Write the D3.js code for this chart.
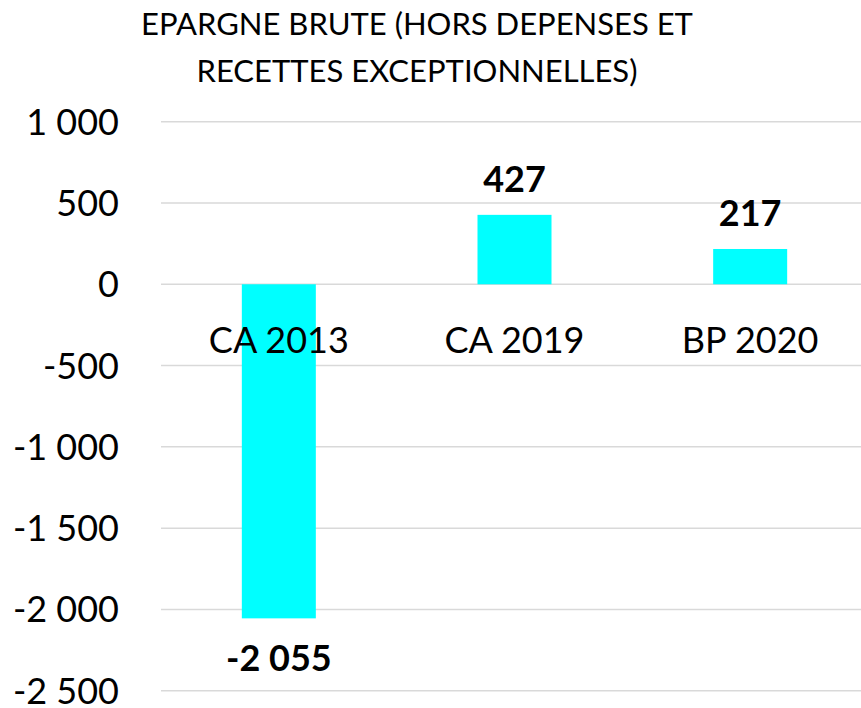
<!DOCTYPE html>
<html>
<head>
<meta charset="utf-8">
<script src="https://cdn.jsdelivr.net/npm/d3@7"></script>
<style>
  body { margin: 0; background: #fff; }
  text { font-family: Lato, "Open Sans", sans-serif; }
</style>
</head>
<body>
<svg id="chart" width="861" height="708"></svg>
<script>
// Data
const categories = ["CA 2013", "CA 2019", "BP 2020"];
const values = [-2055, 427, 217];
const valueLabels = ["-2 055", "427", "217"];
const yTicks = [1000, 500, 0, -500, -1000, -1500, -2000, -2500];
const titleLines = ["EPARGNE BRUTE (HORS DEPENSES ET", "RECETTES EXCEPTIONNELLES)"];

const svg = d3.select("#chart"),
    width = +svg.attr("width"),
    height = +svg.attr("height");

const x = d3.scaleBand()
    .domain(categories)
    .range([161, 868])
    .paddingInner(0.686)
    .paddingOuter(0.343);

const y = d3.scaleLinear()
    .domain([-2500, 1000])
    .range([690.7, 121.7]);

// format with space thousands separator
const fmt = d3.formatLocale({ decimal: ",", thousands: " ", grouping: [3], currency: ["", "€"], minus: "-" }).format(",d");

// Gridlines
svg.append("g")
    .selectAll("line")
    .data(yTicks)
    .join("line")
    .attr("x1", 161)
    .attr("x2", width)
    .attr("y1", d => y(d))
    .attr("y2", d => y(d))
    .attr("stroke", "#d9d9d9")
    .attr("stroke-width", 1.5);

// Y tick labels
svg.append("g")
    .selectAll("text")
    .data(yTicks)
    .join("text")
    .attr("x", 119)
    .attr("y", d => y(d))
    .attr("dy", "0.36em")
    .attr("text-anchor", "end")
    .style("font-size", "36px")
    .style("fill", "#000")
    .text(d => fmt(d));

// Bars
svg.append("g")
    .selectAll("rect")
    .data(values)
    .join("rect")
    .attr("x", (d, i) => x(categories[i]))
    .attr("width", x.bandwidth())
    .attr("y", d => y(Math.max(0, d)))
    .attr("height", d => Math.abs(y(d) - y(0)))
    .attr("fill", "#00ffff");

// Category labels (drawn after bars so they sit on top)
svg.append("g")
    .selectAll("text")
    .data(categories)
    .join("text")
    .attr("x", d => x(d) + x.bandwidth() / 2)
    .attr("y", y(0) + 69)
    .attr("text-anchor", "middle")
    .style("font-size", "36px")
    .style("fill", "#000")
    .text(d => d);

// Value labels
svg.append("g")
    .selectAll("text")
    .data(values)
    .join("text")
    .attr("x", (d, i) => x(categories[i]) + x.bandwidth() / 2)
    .attr("y", d => d >= 0 ? y(d) - 22.7 : y(d) + 52.7)
    .attr("text-anchor", "middle")
    .style("font-size", "36px")
    .style("font-weight", "bold")
    .style("fill", "#000")
    .text((d, i) => valueLabels[i]);

// Title
svg.append("g")
    .selectAll("text")
    .data(titleLines)
    .join("text")
    .attr("x", 417)
    .attr("y", (d, i) => 35 + i * 46.7)
    .attr("text-anchor", "middle")
    .style("font-size", "31px")
    .style("fill", "#000")
    .text(d => d);
</script>
</body>
</html>
